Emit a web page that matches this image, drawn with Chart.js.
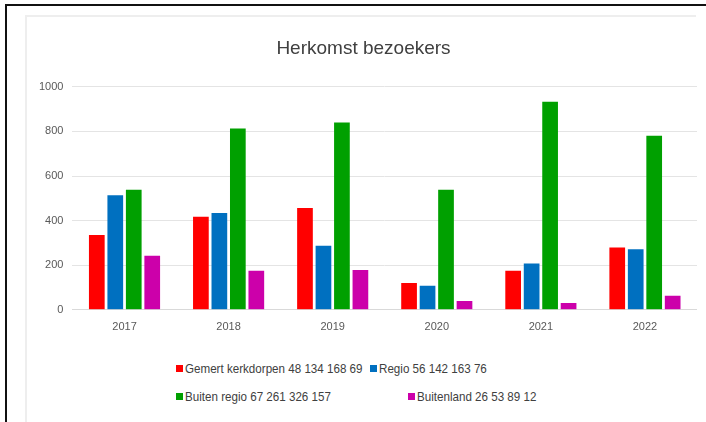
<!DOCTYPE html>
<html>
<head>
<meta charset="utf-8">
<script src="https://cdn.jsdelivr.net/npm/chart.js@4.4.1/dist/chart.umd.min.js"></script>
<style>
    body { margin: 0; background: #fff; width: 706px; height: 422px; overflow: hidden; position: relative; font-family: 'Liberation Sans', sans-serif; }
    #frame { position: absolute; left: 5px; top: 4px; width: 701px; height: 418px; border-top: 2px solid #111; border-left: 2px solid #111; box-sizing: border-box; }
    #inner { position: absolute; left: 25px; top: 15px; width: 671px; height: 407px; border-top: 2px solid #eeeeee; border-left: 2px solid #eeeeee; box-sizing: border-box; }
    #wrap { position: absolute; left: 25px; top: 15px; width: 672px; height: 322px; }
    .leg { position: absolute; font-size: 13.5px; color: #404040; white-space: nowrap; display: flex; align-items: center; }
    .leg span.box { display: inline-block; width: 7px; height: 7px; margin-right: 2px; }
    .leg span.txt { display: inline-block; transform: scaleX(0.86); transform-origin: left center; }
</style>
</head>
<body>
<div id="frame"></div>
<div id="inner"></div>
<div id="wrap"><canvas id="chart-herkomst"></canvas></div>
<div id="legend"></div>
<script>
// Data
const jaren = ['2017', '2018', '2019', '2020', '2021', '2022'];
const seriesNamen = ['Gemert kerkdorpen 48 134 168 69', 'Regio 56 142 163 76', 'Buiten regio 67 261 326 157', 'Buitenland 26 53 89 12'];
const gemertKerkdorpen = [335, 417, 456, 120, 175, 279];
const regio = [514, 434, 287, 108, 208, 272];
const buitenRegio = [538, 813, 840, 538, 933, 780];
const buitenland = [242, 175, 179, 40, 30, 63];
const yTicks = [0, 200, 400, 600, 800, 1000];

const kleuren = ['#ff0000', '#0070c0', '#00a000', '#cc00aa'];
const waarden = [gemertKerkdorpen, regio, buitenRegio, buitenland];

const ctx = document.getElementById('chart-herkomst');
const chart = new Chart(ctx, {
    type: 'bar',
    data: {
        labels: jaren,
        datasets: seriesNamen.map((naam, i) => ({
            label: naam,
            data: waarden[i],
            backgroundColor: kleuren[i],
            barPercentage: 0.85,
            categoryPercentage: 0.71
        }))
    },
    options: {
        responsive: true,
        maintainAspectRatio: false,
        animation: false,
        layout: { padding: { left: 5, right: 0, top: 0, bottom: 0 } },
        plugins: {
            legend: { display: false },
            tooltip: { enabled: false },
            title: {
                display: true,
                text: 'Herkomst bezoekers',
                color: '#404040',
                font: { size: 19, family: "'Liberation Sans', sans-serif", weight: 'normal' },
                padding: { top: 22, bottom: 27 }
            }
        },
        scales: {
            x: {
                grid: { display: false },
                border: { color: '#d9d9d9' },
                ticks: { color: '#595959', font: { size: 11 }, padding: 3 }
            },
            y: {
                min: 0,
                max: 1000,
                afterBuildTicks: axis => { axis.ticks = yTicks.map(v => ({ value: v })); },
                grid: { color: '#e4e4e4', drawTicks: false },
                border: { display: false },
                ticks: { color: '#595959', font: { size: 11 }, padding: 9, callback: v => String(v) }
            }
        }
    }
});

// legend zoals in Excel
const legendPos = [[176, 370], [370, 370], [176, 398], [408, 398]];
const legendEl = document.getElementById('legend');
seriesNamen.forEach((naam, i) => {
    const item = document.createElement('div');
    item.className = 'leg';
    item.style.left = legendPos[i][0] + 'px';
    item.style.top = (legendPos[i][1] - 9) + 'px';
    item.innerHTML = '<span class="box" style="background:' + kleuren[i] + '"></span><span class="txt">' + naam + '</span>';
    legendEl.appendChild(item);
});
</script>
</body>
</html>
